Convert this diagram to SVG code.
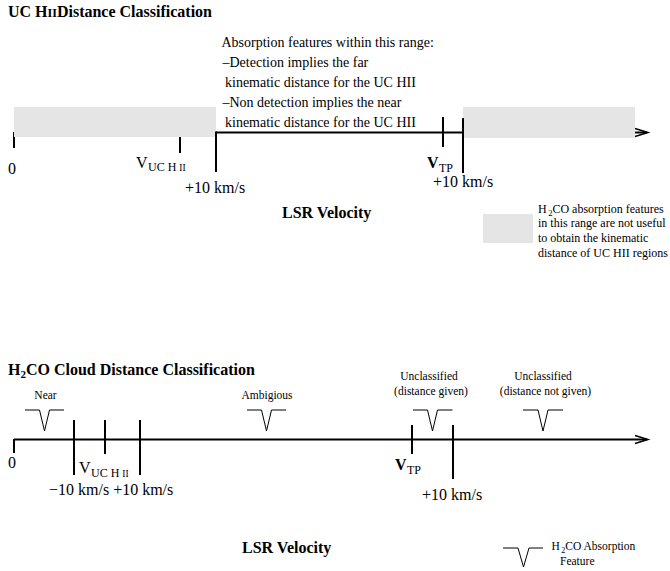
<svg xmlns="http://www.w3.org/2000/svg" width="670" height="571" viewBox="0 0 670 571">
<style>
text{font-family:"Liberation Serif","Times New Roman",serif;fill:#000}
.title{font-size:16px;font-weight:bold}
.lbl{font-size:16px}
.sub{font-size:12px}
.sc{font-size:9.5px}
.note{font-size:14px}
.leg{font-size:12px}
.cls{font-size:11.5px}
.axis{stroke:#000;stroke-width:2.2;fill:none}
.tick{stroke:#000;stroke-width:2;fill:none}
.head{stroke:#000;stroke-width:1.5;fill:none}
.feat{stroke:#000;stroke-width:1;fill:none}
.shade{fill:#e5e5e5;stroke:none}
</style>

<g id="top-title"><text class="title" x="8" y="17">UC H<tspan style="font-size:12px">II</tspan>Distance Classification</text></g>

<g id="connectors">
  <line class="axis" x1="14" y1="132.5" x2="647" y2="132.5"/>
  <path class="head" d="M635,128.5 L648,132.5 L635,136.5"/>
  <line class="tick" x1="14" y1="132" x2="14" y2="148"/>
  <line class="tick" x1="180" y1="132" x2="180" y2="153"/>
  <line class="axis" x1="14" y1="439.5" x2="647" y2="439.5"/>
  <path class="head" d="M635,435.5 L648,439.5 L635,443.5"/>
</g>

<g id="top-shade-low"><rect class="shade" x="14" y="107" width="202" height="30"/></g>
<g id="top-shade-high"><rect class="shade" x="463" y="107" width="172" height="31"/></g>

<g id="top-ticks">
  <line class="tick" x1="216" y1="131.5" x2="216" y2="172"/>
  <line class="tick" x1="443" y1="117" x2="443" y2="147"/>
  <line class="tick" x1="463" y1="118" x2="463" y2="173"/>
</g>

<g id="top-note">
  <text class="note" x="221.5" y="46.5">Absorption features within this range:</text>
  <text class="note" x="222.5" y="66.5">–Detection implies the far</text>
  <text class="note" x="225" y="86.5">kinematic distance for the UC HII</text>
  <text class="note" x="222.5" y="107">–Non detection implies the near</text>
  <text class="note" x="225" y="127">kinematic distance for the UC HII</text>
</g>

<g id="top-labels">
  <text class="lbl" x="8" y="174">0</text>
  <text class="lbl" x="136" y="167.5">V<tspan class="sub" x="148" y="170.5">UC H <tspan class="sc">II</tspan></tspan></text>
  <text class="lbl" x="185" y="193">+10 km/s</text>
  <text class="lbl" x="427" y="168" font-weight="bold">V<tspan class="sub" x="439" y="171.5" font-weight="normal">TP</tspan></text>
  <text class="lbl" x="433" y="187">+10 km/s</text>
  <text class="title" x="282" y="218">LSR Velocity</text>
</g>

<g id="top-legend">
  <rect class="shade" x="483" y="214" width="50" height="29"/>
  <text class="leg" x="538" y="212.5">H<tspan dx="1.5" dy="3" style="font-size:8.5px">2</tspan><tspan dy="-3">CO absorption features</tspan></text>
  <text class="leg" x="538" y="227">in this range are not useful</text>
  <text class="leg" x="538" y="241.7">to obtain the kinematic</text>
  <text class="leg" x="538" y="256.5">distance of UC HII regions</text>
</g>

<g id="bottom-title"><text class="title" x="8" y="375">H<tspan dy="3" style="font-size:11px">2</tspan><tspan dy="-3">CO Cloud Distance Classification</tspan></text></g>

<g id="bottom-ticks">
  <line class="tick" x1="14" y1="439" x2="14" y2="453"/>
  <line class="tick" x1="74" y1="420" x2="74" y2="475"/>
  <line class="tick" x1="105" y1="420" x2="105" y2="454"/>
  <line class="tick" x1="140" y1="420" x2="140" y2="475"/>
  <line class="tick" x1="412" y1="425" x2="412" y2="454"/>
  <line class="tick" x1="453" y1="425" x2="453" y2="479"/>
</g>

<g id="bottom-labels">
  <text class="lbl" x="79" y="473">V<tspan class="sub" x="91" y="477">UC H <tspan class="sc">II</tspan></tspan></text>
  <text class="lbl" x="8" y="468">0</text>
  <text class="lbl" x="49" y="495">−10 km/s +10 km/s</text>
  <text class="lbl" x="395" y="470" font-weight="bold">V<tspan class="sub" x="407" y="474" font-weight="normal">TP</tspan></text>
  <text class="lbl" x="422" y="500">+10 km/s</text>
  <text class="title" x="242" y="553">LSR Velocity</text>
</g>

<g id="feature-near">
  <text class="cls" x="45.5" y="399" text-anchor="middle">Near</text>
  <path class="feat" d="M25,410 H39.5 L44.5,431 L49.5,410 H64"/>
</g>
<g id="feature-ambiguous">
  <text class="cls" x="267" y="399" text-anchor="middle">Ambigious</text>
  <path class="feat" d="M247,410 H261.5 L266.5,431 L271.5,410 H286"/>
</g>
<g id="feature-unclassified-given">
  <text class="cls" x="429" y="379.5" text-anchor="middle">Unclassified</text>
  <text class="cls" x="431" y="395" text-anchor="middle">(distance given)</text>
  <path class="feat" d="M413,410 H427.5 L432.5,431 L437.5,410 H452.5"/>
</g>
<g id="feature-unclassified-not-given">
  <text class="cls" x="543" y="379.5" text-anchor="middle">Unclassified</text>
  <text class="cls" x="545.5" y="395" text-anchor="middle">(distance not given)</text>
  <path class="feat" d="M523,410 H538 L543,431 L548,410 H563"/>
</g>

<g id="bottom-legend">
  <path class="feat" d="M503,548 H518 L523.5,567 L529,548 H543"/>
  <text class="leg" x="551.5" y="550" style="font-size:11.5px">H<tspan dx="1.5" dy="2.5" style="font-size:8px">2</tspan><tspan dy="-2.5">CO Absorption</tspan></text>
  <text class="leg" x="560" y="564.5" style="font-size:11.5px">Feature</text>
</g>
</svg>
